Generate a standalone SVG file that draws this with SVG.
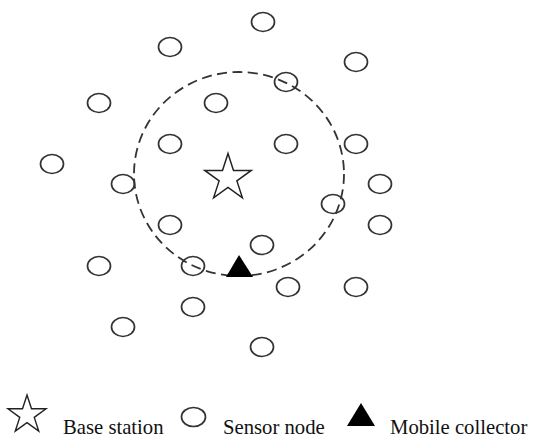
<svg xmlns="http://www.w3.org/2000/svg" width="534" height="439" viewBox="0 0 534 439">
  <style>
    .sensor { fill: none; stroke: #333; stroke-width: 1.7; }
    .star { fill: #fff; stroke: #222; stroke-width: 1.5; stroke-linejoin: miter; }
    .collector { fill: #000; stroke: none; }
    .range { fill: none; stroke: #333; stroke-width: 1.8; stroke-dasharray: 10 5.5; }
    .label { font-family: "Liberation Serif", "Times New Roman", serif; font-size: 20.7px; fill: #111; }
  </style>
  <defs>
    <ellipse id="node" cx="0" cy="0" rx="11.5" ry="9.5" class="sensor"/>
    <!-- five-pointed star, outer radius 1, inner 0.382 -->
    <polygon id="starShape" points="0,-1 0.2245,-0.309 0.951,-0.309 0.363,0.118 0.588,0.809 0,0.382 -0.588,0.809 -0.363,0.118 -0.951,-0.309 -0.2245,-0.309"/>
  </defs>

  <rect width="534" height="439" fill="#fff"/>

  <!-- communication range of the base station -->
  <g id="range">
    <ellipse cx="239" cy="174" rx="105" ry="102" class="range"/>
  </g>

  <!-- sensor nodes -->
  <g id="sensors">
    <use href="#node" x="263" y="22"/>
    <use href="#node" x="170" y="47"/>
    <use href="#node" x="356" y="62"/>
    <use href="#node" x="99" y="103"/>
    <use href="#node" x="216" y="103"/>
    <use href="#node" x="286" y="82"/>
    <use href="#node" x="170" y="144"/>
    <use href="#node" x="286" y="144"/>
    <use href="#node" x="356" y="144"/>
    <use href="#node" x="52" y="164"/>
    <use href="#node" x="123" y="184"/>
    <use href="#node" x="380" y="184"/>
    <use href="#node" x="333" y="204"/>
    <use href="#node" x="170" y="225"/>
    <use href="#node" x="380" y="225"/>
    <use href="#node" x="262" y="245"/>
    <use href="#node" x="99" y="266"/>
    <use href="#node" x="193" y="266"/>
    <use href="#node" x="288" y="287"/>
    <use href="#node" x="356" y="287"/>
    <use href="#node" x="193" y="307"/>
    <use href="#node" x="123" y="327"/>
    <use href="#node" x="262" y="347"/>
  </g>

  <!-- base station -->
  <g id="base-station">
    <use href="#starShape" class="star" transform="translate(228 178) scale(24.5)" style="stroke-width:0.06"/>
  </g>

  <!-- mobile collector -->
  <g id="mobile-collector">
    <polygon class="collector" points="239,255 226,277 253,277"/>
  </g>

  <!-- legend -->
  <g id="legend">
    <use href="#starShape" class="star" transform="translate(27 415) scale(20)" style="stroke-width:0.07"/>
    <text class="label" x="63" y="434">Base station</text>
    <ellipse cx="193.5" cy="417" rx="12" ry="9.5" class="sensor"/>
    <text class="label" x="223" y="434">Sensor node</text>
    <polygon class="collector" points="361,403 347,426 375,426"/>
    <text class="label" x="390" y="434">Mobile collector</text>
  </g>
</svg>
